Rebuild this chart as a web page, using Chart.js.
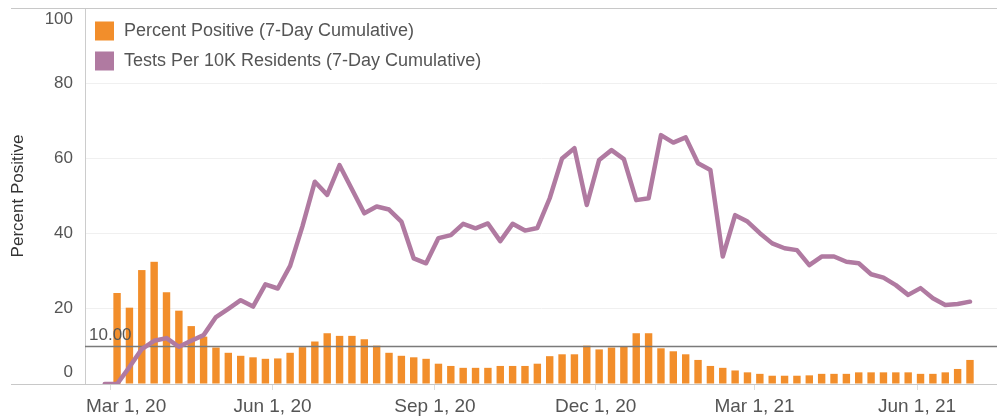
<!DOCTYPE html>
<html><head><meta charset="utf-8">
<script src="https://cdn.jsdelivr.net/npm/chart.js@4.4.1/dist/chart.umd.min.js"></script>
<style>html,body{margin:0;padding:0;background:#fff;}#wrap{width:999px;height:418px;position:relative;}</style>
</head><body><div id="wrap"><canvas id="c" width="999" height="418"></canvas></div>
<script>
// ---- data ----
const weekDates = ['2020-02-27','2020-03-05','2020-03-12','2020-03-19','2020-03-26','2020-04-02','2020-04-09','2020-04-16','2020-04-23','2020-04-30',
'2020-05-07','2020-05-14','2020-05-21','2020-05-28','2020-06-04','2020-06-11','2020-06-18','2020-06-25','2020-07-02','2020-07-09',
'2020-07-16','2020-07-23','2020-07-30','2020-08-06','2020-08-13','2020-08-20','2020-08-27','2020-09-03','2020-09-10','2020-09-17',
'2020-09-24','2020-10-01','2020-10-08','2020-10-15','2020-10-22','2020-10-29','2020-11-05','2020-11-12','2020-11-19','2020-11-26',
'2020-12-03','2020-12-10','2020-12-17','2020-12-24','2020-12-31','2021-01-07','2021-01-14','2021-01-21','2021-01-28','2021-02-04',
'2021-02-11','2021-02-18','2021-02-25','2021-03-04','2021-03-11','2021-03-18','2021-03-25','2021-04-01','2021-04-08','2021-04-15',
'2021-04-22','2021-04-29','2021-05-06','2021-05-13','2021-05-20','2021-05-27','2021-06-03','2021-06-10','2021-06-17','2021-06-24','2021-07-01'];
const pctPositive = [null,24.2,20.3,30.3,32.5,24.4,19.5,15.4,12.6,9.7,
8.3,7.5,7.1,6.7,6.8,8.3,9.8,11.3,13.5,12.8,
12.8,11.9,10.2,8.3,7.5,7.1,6.7,5.4,4.8,4.3,
4.3,4.3,4.8,4.8,4.8,5.4,7.4,7.9,7.9,10.2,
9.2,9.7,9.9,13.5,13.5,9.5,8.7,7.9,6.4,4.8,
4.3,3.6,3.1,2.7,2.2,2.2,2.2,2.3,2.7,2.7,
2.7,3.1,3.1,3.1,3.1,3.1,2.7,2.7,3.1,4.0,6.4];
const testsPer10K = [0,0,4.5,9.3,11.5,12.2,9.9,11.5,13,17.8,
20,22.3,20.6,26.5,25.4,31.4,42,53.8,50.3,58.2,
51.8,45.4,47.2,46.4,43.2,33.4,32.1,38.8,39.6,42.6,
41.4,42.7,38.0,42.6,40.8,41.5,49.4,60,62.7,47.6,
59.6,62.2,59.8,48.9,49.4,66.2,64.2,65.6,58.7,56.9,
33.9,44.9,43.2,40.1,37.4,36.1,35.6,31.6,33.9,33.9,
32.5,32.1,29.2,28.3,26.3,23.7,25.5,22.8,21,21.3,21.9];
const seriesLabels = ['Percent Positive (7-Day Cumulative)','Tests Per 10K Residents (7-Day Cumulative)'];
const xTickDates = ['2020-03-01','2020-06-01','2020-09-01','2020-12-01','2021-03-01','2021-06-01'];
const xTickLabels = ['Mar 1, 20','Jun 1, 20','Sep 1, 20','Dec 1, 20','Mar 1, 21','Jun 1, 21'];
const yTickValues = [0,20,40,60,80,100];
const yTickLabels = ['0','20','40','60','80','100'];
const yAxisTitle = 'Percent Positive';
const referenceValue = 10;
const referenceLabel = '10.00';

// ---- helpers ----
const ORIGIN = Date.parse('2020-03-01');
const toDay = d => (Date.parse(d) - ORIGIN) / 864e5;
const weekDays = weekDates.map(toDay);
const xTickDays = xTickDates.map(toDay);
const ORANGE = '#F28E2B', PURPLE = '#B07AA1';
const FONT = "'Liberation Sans', Arial, sans-serif";
const TXT = '#555';

const customPlugin = {
  id: 'custom',
  beforeDatasetsDraw(chart) {
    const ctx = chart.ctx, a = chart.chartArea, y = chart.scales.y;
    ctx.save();
    ctx.strokeStyle = '#c8c8c8'; ctx.lineWidth = 1;
    [100, 0].forEach(v => {
      const py = Math.round(y.getPixelForValue(v)) + 0.5;
      ctx.beginPath(); ctx.moveTo(11, py); ctx.lineTo(a.right, py); ctx.stroke();
    });
    ctx.restore();
  },
  afterDatasetDraw(chart, args) {
    if (args.index !== 0) return;
    const ctx = chart.ctx, a = chart.chartArea, y = chart.scales.y;
    const py = Math.round(y.getPixelForValue(referenceValue)) + 0.5;
    ctx.save();
    ctx.strokeStyle = '#7a7a7a'; ctx.lineWidth = 1.5;
    ctx.beginPath(); ctx.moveTo(a.left, py); ctx.lineTo(a.right, py); ctx.stroke();
    ctx.fillStyle = TXT; ctx.font = '17px ' + FONT; ctx.textAlign = 'left'; ctx.textBaseline = 'alphabetic';
    ctx.fillText(referenceLabel, a.left + 4, py - 7);
    ctx.restore();
  },
  afterDraw(chart) {
    const ctx = chart.ctx, a = chart.chartArea, y = chart.scales.y, x = chart.scales.x;
    ctx.save();
    // y tick labels (kept inside the pane, as in the original)
    ctx.font = '17px ' + FONT; ctx.fillStyle = TXT; ctx.textAlign = 'right'; ctx.textBaseline = 'middle';
    yTickValues.forEach((v, i) => {
      let py = y.getPixelForValue(v);
      py = Math.min(Math.max(py, a.top + 11), a.bottom - 12);
      ctx.fillText(yTickLabels[i], a.left - 12, py);
    });
    // x tick labels (clamped inside the pane)
    ctx.font = '19px ' + FONT; ctx.textAlign = 'left'; ctx.textBaseline = 'alphabetic';
    xTickDays.forEach((d, i) => {
      const w = ctx.measureText(xTickLabels[i]).width;
      let lx = x.getPixelForValue(d) - w / 2;
      lx = Math.min(Math.max(lx, a.left + 1), a.right - w);
      ctx.fillText(xTickLabels[i], lx, a.bottom + 28);
    });
    // legend
    const colors = [ORANGE, PURPLE];
    ctx.font = '18px ' + FONT; ctx.textBaseline = 'middle';
    seriesLabels.forEach((t, i) => {
      const cy = 31 + i * 30;
      ctx.fillStyle = colors[i];
      ctx.fillRect(a.left + 10, cy - 9.5, 19, 19);
      ctx.fillStyle = TXT;
      ctx.fillText(t, a.left + 39, cy);
    });
    ctx.restore();
  }
};

new Chart(document.getElementById('c'), {
  type: 'bar',
  data: {
    datasets: [
      { type: 'bar', label: seriesLabels[0], order: 2,
        data: weekDays.map((d, i) => ({x: d, y: pctPositive[i]})),
        backgroundColor: ORANGE, categoryPercentage: 1, barPercentage: 0.6 },
      { type: 'line', label: seriesLabels[1], order: 1,
        data: weekDays.map((d, i) => ({x: d, y: testsPer10K[i]})),
        borderColor: PURPLE, borderWidth: 4.5, pointRadius: 0, tension: 0,
        borderJoinStyle: 'round', borderCapStyle: 'round', fill: false }
    ]
  },
  options: {
    responsive: false, animation: false, devicePixelRatio: 1,
    layout: { padding: { top: 8, right: 2, left: 0, bottom: 0 } },
    plugins: { legend: { display: false }, tooltip: { enabled: false } },
    scales: {
      x: {
        type: 'linear', min: -14.16, max: 502.3, offset: false,
        afterBuildTicks: s => { s.ticks = xTickDays.map(v => ({value: v})); },
        afterFit: s => { s.height = 34; },
        ticks: { display: false, autoSkip: false, maxRotation: 0 },
        grid: { display: true, drawOnChartArea: false, drawTicks: true, tickLength: 6, tickColor: '#dddddd', offset: false },
        border: { display: false }
      },
      y: {
        min: 0, max: 100,
        afterBuildTicks: s => { s.ticks = yTickValues.map(v => ({value: v})); },
        afterFit: s => { s.width = 85; },
        ticks: { display: false },
        grid: { drawTicks: false, color: c => (c.tick && (c.tick.value === 0 || c.tick.value === 100)) ? 'rgba(0,0,0,0)' : '#f0f0f0' },
        border: { display: true, color: '#cccccc', width: 1 },
        title: { display: true, text: yAxisTitle, color: '#333', font: { size: 17, family: FONT }, padding: { top: 8, bottom: 0 } }
      }
    }
  },
  plugins: [customPlugin]
});
</script>
</body></html>
